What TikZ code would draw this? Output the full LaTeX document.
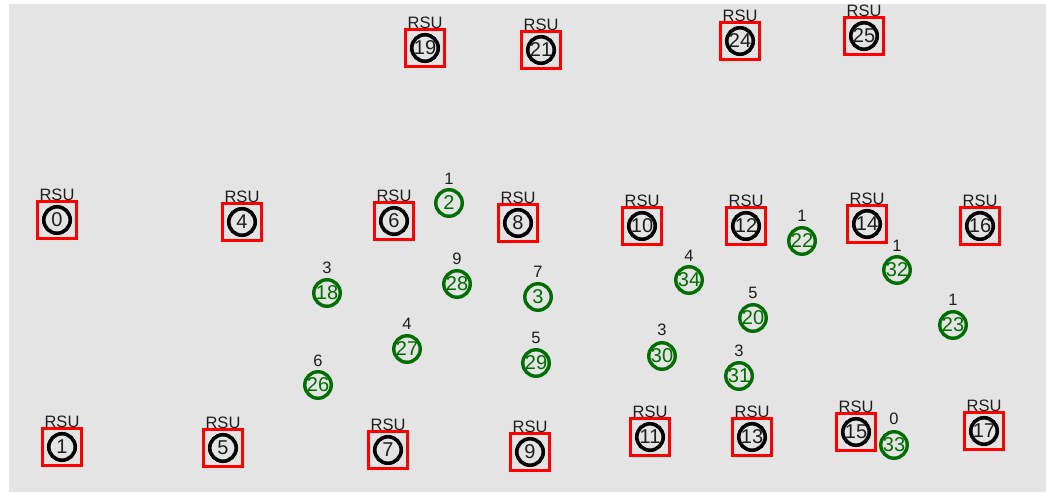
\documentclass[tikz,border=0pt]{standalone}
\usepackage{fontspec}
\setmainfont{Liberation Sans}
\definecolor{bggray}{RGB}{228,228,228}
\definecolor{cargreen}{RGB}{0,110,0}
\definecolor{txtgray}{RGB}{30,30,30}

\begin{document}
\begin{tikzpicture}[x=1pt, y=-1pt,
  rsubox/.style={draw=red, line width=2.4pt, minimum width=39pt, minimum height=37pt, inner sep=0pt},
  rsunode/.style={circle, draw=black, line width=3.6pt, minimum size=26.5pt, inner sep=0pt, font=\fontsize{20}{20}\selectfont, text=txtgray},
  carnode/.style={circle, draw=cargreen, line width=3.4pt, minimum size=26.5pt, inner sep=0pt, font=\fontsize{20}{20}\selectfont, text=cargreen},
  toptext/.style={inner sep=0pt, font=\fontsize{16.5}{16.5}\selectfont, text=txtgray}]
\useasboundingbox (0, 0) rectangle (1046, 494);
\fill[bggray] (9, 4) rectangle (1046, 492);

% road side units
\node[rsubox] (b0) at (57, 220) {};   \node[rsunode] (n0) at (57, 220) {0};   \node[toptext] (t0) at (57, 195) {RSU};
\node[rsubox] (b1) at (62, 447) {};   \node[rsunode] (n1) at (62, 447) {1};   \node[toptext] (t1) at (62, 422) {RSU};
\node[rsubox] (b4) at (242, 222) {};  \node[rsunode] (n4) at (242, 222) {4};  \node[toptext] (t4) at (242, 197) {RSU};
\node[rsubox] (b5) at (223, 448) {};  \node[rsunode] (n5) at (223, 448) {5};  \node[toptext] (t5) at (223, 423) {RSU};
\node[rsubox] (b6) at (394, 221) {};  \node[rsunode] (n6) at (394, 221) {6};  \node[toptext] (t6) at (394, 196) {RSU};
\node[rsubox] (b7) at (388, 450) {};  \node[rsunode] (n7) at (388, 450) {7};  \node[toptext] (t7) at (388, 425) {RSU};
\node[rsubox] (b8) at (518, 223) {};  \node[rsunode] (n8) at (518, 223) {8};  \node[toptext] (t8) at (518, 198) {RSU};
\node[rsubox] (b9) at (530, 452) {};  \node[rsunode] (n9) at (530, 452) {9};  \node[toptext] (t9) at (530, 427) {RSU};
\node[rsubox] (b10) at (642, 226) {}; \node[rsunode] (n10) at (642, 226) {10}; \node[toptext] (t10) at (642, 201) {RSU};
\node[rsubox] (b11) at (650, 437) {}; \node[rsunode] (n11) at (650, 437) {11}; \node[toptext] (t11) at (650, 412) {RSU};
\node[rsubox] (b12) at (746, 226) {}; \node[rsunode] (n12) at (746, 226) {12}; \node[toptext] (t12) at (746, 201) {RSU};
\node[rsubox] (b13) at (752, 437) {}; \node[rsunode] (n13) at (752, 437) {13}; \node[toptext] (t13) at (752, 412) {RSU};
\node[rsubox] (b14) at (867, 224) {}; \node[rsunode] (n14) at (867, 224) {14}; \node[toptext] (t14) at (867, 199) {RSU};
\node[rsubox] (b15) at (856, 432) {}; \node[rsunode] (n15) at (856, 432) {15}; \node[toptext] (t15) at (856, 407) {RSU};
\node[rsubox] (b16) at (980, 226) {}; \node[rsunode] (n16) at (980, 226) {16}; \node[toptext] (t16) at (980, 201) {RSU};
\node[rsubox] (b17) at (984, 431) {}; \node[rsunode] (n17) at (984, 431) {17}; \node[toptext] (t17) at (984, 406) {RSU};
\node[rsubox] (b19) at (425, 48) {};  \node[rsunode] (n19) at (425, 48) {19};  \node[toptext] (t19) at (425, 23) {RSU};
\node[rsubox] (b21) at (541, 50) {};  \node[rsunode] (n21) at (541, 50) {21};  \node[toptext] (t21) at (541, 25) {RSU};
\node[rsubox] (b24) at (740, 41) {};  \node[rsunode] (n24) at (740, 41) {24};  \node[toptext] (t24) at (740, 16) {RSU};
\node[rsubox] (b25) at (864, 36) {};  \node[rsunode] (n25) at (864, 36) {25};  \node[toptext] (t25) at (864, 11) {RSU};

% vehicles
\node[carnode] (n2) at (449, 203) {2};   \node[toptext] (c2) at (449, 179) {1};
\node[carnode] (n3) at (538, 297) {3};   \node[toptext] (c3) at (538, 272) {7};
\node[carnode] (n18) at (327, 293) {18}; \node[toptext] (c18) at (327, 268) {3};
\node[carnode] (n20) at (753, 318) {20}; \node[toptext] (c20) at (753, 293) {5};
\node[carnode] (n22) at (802, 241) {22}; \node[toptext] (c22) at (802, 216) {1};
\node[carnode] (n23) at (953, 325) {23}; \node[toptext] (c23) at (953, 300) {1};
\node[carnode] (n26) at (318, 385) {26}; \node[toptext] (c26) at (318, 361) {6};
\node[carnode] (n27) at (407, 349) {27}; \node[toptext] (c27) at (407, 324) {4};
\node[carnode] (n28) at (457, 284) {28}; \node[toptext] (c28) at (457, 259) {9};
\node[carnode] (n29) at (536, 363) {29}; \node[toptext] (c29) at (536, 338) {5};
\node[carnode] (n30) at (662, 356) {30}; \node[toptext] (c30) at (662, 330) {3};
\node[carnode] (n31) at (739, 376) {31}; \node[toptext] (c31) at (739, 351) {3};
\node[carnode] (n32) at (897, 270) {32}; \node[toptext] (c32) at (897, 246) {1};
\node[carnode] (n33) at (894, 445) {33}; \node[toptext] (c33) at (894, 419) {0};
\node[carnode] (n34) at (689, 280) {34}; \node[toptext] (c34) at (689, 256) {4};

\end{tikzpicture}
\end{document}
